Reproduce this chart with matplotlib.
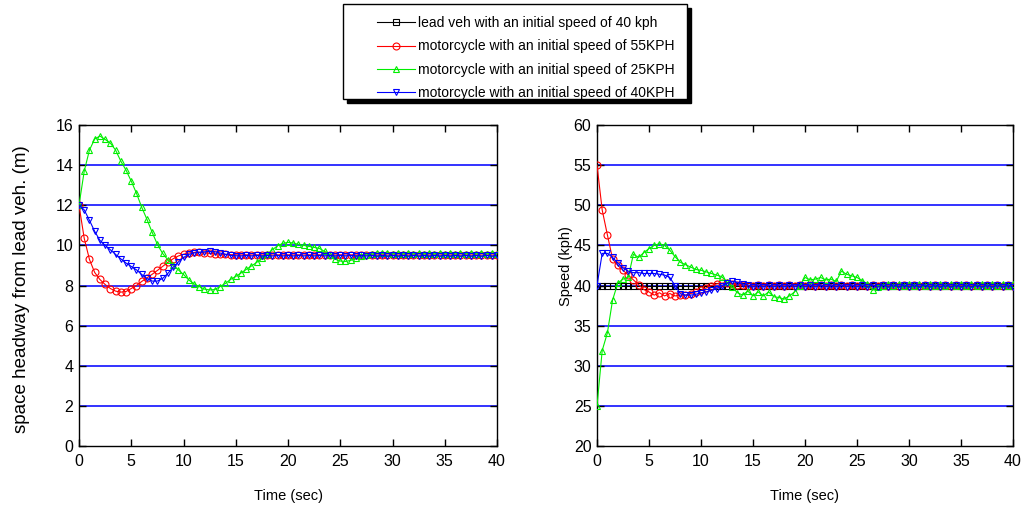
import numpy as np
import matplotlib
matplotlib.use("Agg")
import matplotlib.pyplot as plt
from matplotlib.patches import Rectangle

plt.rcParams['font.family'] = ['Liberation Sans', 'DejaVu Sans']

# ---------------- data ----------------
time_sec = np.arange(0, 40.5, 0.5)  # sampling instants (81 points)

series_labels = [
    "lead veh with an initial speed of 40 kph",
    "motorcycle with an initial speed of 55KPH",
    "motorcycle with an initial speed of 25KPH",
    "motorcycle with an initial speed of 40KPH",
]

# space headway from lead vehicle (m)
headway_55 = [12.0, 10.35, 9.3, 8.65, 8.3, 8.05, 7.85, 7.72, 7.67, 7.7,
              7.85, 8.0, 8.2, 8.38, 8.56, 8.75, 8.95, 9.15, 9.33, 9.47,
              9.56, 9.62, 9.65, 9.65, 9.63, 9.6, 9.58, 9.56, 9.55, 9.54,
              9.53, 9.52, 9.53, 9.52, 9.53, 9.52, 9.53, 9.52, 9.53, 9.52,
              9.53, 9.52, 9.53, 9.52, 9.53, 9.52, 9.53, 9.52, 9.53, 9.52,
              9.53, 9.52, 9.53, 9.52, 9.53, 9.52, 9.53, 9.52, 9.53, 9.52,
              9.53, 9.52, 9.53, 9.52, 9.53, 9.52, 9.53, 9.52, 9.53, 9.52,
              9.53, 9.52, 9.53, 9.52, 9.53, 9.52, 9.53, 9.52, 9.53, 9.52,
              9.53]
headway_25 = [12.0, 13.7, 14.75, 15.3, 15.45, 15.28, 15.1, 14.75, 14.2, 13.75,
              13.2, 12.6, 11.9, 11.3, 10.65, 10.05, 9.6, 9.28, 9.0, 8.78,
              8.55, 8.28, 8.08, 7.95, 7.82, 7.78, 7.8, 7.95, 8.1, 8.3,
              8.45, 8.62, 8.8, 8.97, 9.15, 9.35, 9.55, 9.78, 9.98, 10.1,
              10.15, 10.12, 10.05, 10.0, 9.95, 9.9, 9.85, 9.7, 9.5, 9.32,
              9.22, 9.2, 9.25, 9.35, 9.45, 9.52, 9.57, 9.6, 9.6, 9.62,
              9.58, 9.62, 9.58, 9.62, 9.58, 9.62, 9.58, 9.62, 9.58, 9.62,
              9.58, 9.62, 9.58, 9.62, 9.58, 9.62, 9.58, 9.62, 9.58, 9.62,
              9.58]
headway_40 = [12.0, 11.77, 11.25, 10.7, 10.25, 10.0, 9.78, 9.55, 9.33, 9.12,
              8.95, 8.78, 8.55, 8.35, 8.22, 8.22, 8.35, 8.6, 8.9, 9.17,
              9.4, 9.55, 9.62, 9.66, 9.68, 9.7, 9.68, 9.62, 9.56, 9.5,
              9.48, 9.47, 9.5, 9.47, 9.5, 9.47, 9.5, 9.47, 9.5, 9.47,
              9.5, 9.47, 9.5, 9.47, 9.5, 9.47, 9.5, 9.47, 9.5, 9.47,
              9.5, 9.47, 9.5, 9.47, 9.5, 9.47, 9.5, 9.47, 9.5, 9.47,
              9.5, 9.47, 9.5, 9.47, 9.5, 9.47, 9.5, 9.47, 9.5, 9.47,
              9.5, 9.47, 9.5, 9.47, 9.5, 9.47, 9.5, 9.47, 9.5, 9.47,
              9.5]

# speed (kph)
speed_lead = [40.0] * 81
speed_55 = [55.0, 49.4, 46.3, 43.3, 42.5, 41.9, 41.3, 40.7, 40.1, 39.5,
            39.2, 38.8, 39.1, 38.7, 39.0, 38.7, 38.8, 38.8, 39.0, 39.2,
            39.4, 39.7, 40.0, 40.2, 40.3, 40.3, 40.2, 40.1, 40.1, 40.0,
            39.9, 40.1, 39.9, 40.1, 39.9, 40.1, 39.9, 40.1, 39.9, 40.1,
            39.9, 40.1, 39.9, 40.1, 39.9, 40.1, 39.9, 40.1, 39.9, 40.1,
            39.9, 40.1, 39.9, 40.1, 39.9, 40.1, 39.9, 40.1, 39.9, 40.1,
            39.9, 40.1, 39.9, 40.1, 39.9, 40.1, 39.9, 40.1, 39.9, 40.1,
            39.9, 40.1, 39.9, 40.1, 39.9, 40.1, 39.9, 40.1, 39.9, 40.1,
            39.9]
speed_25 = [25.0, 31.9, 34.1, 38.2, 40.3, 40.8, 41.0, 43.9, 43.5, 44.1,
            44.6, 45.0, 45.2, 45.0, 44.4, 43.6, 42.9, 42.6, 42.3, 42.0,
            41.9, 41.7, 41.5, 41.3, 41.1, 40.4, 39.8, 39.1, 38.8, 39.3,
            38.7, 39.2, 38.7, 39.2, 38.6, 38.5, 38.3, 38.7, 39.2, 40.0,
            41.0, 40.7, 40.8, 41.0, 40.7, 40.8, 40.5, 41.8, 41.4, 41.2,
            41.0, 40.6, 40.2, 39.4, 39.8, 40.0, 40.2, 39.9, 40.2, 39.9,
            40.2, 39.9, 40.2, 39.9, 40.2, 39.9, 40.2, 39.9, 40.2, 39.9,
            40.2, 39.9, 40.2, 39.9, 40.2, 39.9, 40.2, 39.9, 40.2, 39.9,
            40.2]
speed_40 = [40.0, 44.0, 44.0, 43.5, 42.8, 42.2, 41.8, 41.6, 41.6, 41.5,
            41.5, 41.5, 41.4, 41.3, 41.0, 40.0, 39.0, 38.8, 38.8, 38.9,
            39.1, 39.2, 39.4, 39.6, 40.0, 40.3, 40.5, 40.4, 40.2, 40.1,
            39.8, 40.1, 39.8, 40.1, 39.8, 40.1, 39.8, 40.1, 39.8, 40.1,
            39.8, 40.1, 39.8, 40.1, 39.8, 40.1, 39.8, 40.1, 39.8, 40.1,
            39.8, 40.1, 39.8, 40.1, 39.8, 40.1, 39.8, 40.1, 39.8, 40.1,
            39.8, 40.1, 39.8, 40.1, 39.8, 40.1, 39.8, 40.1, 39.8, 40.1,
            39.8, 40.1, 39.8, 40.1, 39.8, 40.1, 39.8, 40.1, 39.8, 40.1,
            39.8]

x_ticks = [0, 5, 10, 15, 20, 25, 30, 35, 40]
left_yticks = [0, 2, 4, 6, 8, 10, 12, 14, 16]
right_yticks = [20, 25, 30, 35, 40, 45, 50, 55, 60]

# ---------------- figure ----------------
W, H = 1028, 515
fig = plt.figure(figsize=(W / 100, H / 100), dpi=100)


def px_axes(x0, y0, x1, y1):
    return fig.add_axes([x0 / W, 1 - y1 / H, (x1 - x0) / W, (y1 - y0) / H])


ax1 = px_axes(79, 125, 497, 446)
ax2 = px_axes(597, 125, 1013, 446)

BLUE_GRID = '#1010ff'
style = dict(lw=0.8, ms=5, mew=0.8, mfc='none')

for ax, yt in ((ax1, left_yticks), (ax2, right_yticks)):
    ax.set_xlim(0, 40)
    ax.set_ylim(yt[0], yt[-1])
    ax.set_xticks(x_ticks)
    ax.set_yticks(yt)
    for v in yt[1:-1]:
        ax.axhline(v, color=BLUE_GRID, lw=1.2, zorder=1)
    ax.tick_params(direction='in', length=5, width=1, top=True, right=True,
                   labelsize=11.5, pad=4)
    ax.tick_params(axis='x', pad=6)
    for s in ax.spines.values():
        s.set_linewidth(1.0)
    ax.set_xlabel('Time (sec)', fontsize=10.5, labelpad=14)

# left plot
ax1.plot(time_sec, headway_55, color='#ff0000', marker='o', zorder=3, **style)
ax1.plot(time_sec, headway_25, color='#00ee00', marker='^', zorder=3, **style)
ax1.plot(time_sec, headway_40, color='#0000ff', marker='v', zorder=3, **style)
ax1.set_ylabel('space headway from lead veh. (m)', fontsize=13.5)
ax1.yaxis.set_label_coords(-0.118, 0.49)

# right plot
h0, = ax2.plot(time_sec, speed_lead, color='black', marker='s', zorder=3, **style)
h1, = ax2.plot(time_sec, speed_55, color='#ff0000', marker='o', zorder=3, **style)
h2, = ax2.plot(time_sec, speed_25, color='#00ee00', marker='^', zorder=3, **style)
h3, = ax2.plot(time_sec, speed_40, color='#0000ff', marker='v', zorder=3, **style)
ax2.set_ylabel('Speed (kph)', fontsize=10.5)
ax2.yaxis.set_label_coords(-0.058, 0.56)

# legend box with shadow (figure coords)
bx0, by0, bx1, by1 = 343, 4, 687, 99
fig.patches.append(Rectangle(((bx0 + 4) / W, 1 - (by1 + 4) / H), (bx1 - bx0) / W,
                             (by1 - by0) / H, transform=fig.transFigure,
                             facecolor='black', edgecolor='black', zorder=0))
fig.patches.append(Rectangle((bx0 / W, 1 - by1 / H), (bx1 - bx0) / W,
                             (by1 - by0) / H, transform=fig.transFigure,
                             facecolor='white', edgecolor='black', lw=1.0, zorder=1))
leg = fig.legend([h0, h1, h2, h3], series_labels, loc='upper left',
                 bbox_to_anchor=(377 / W, 1 - 16 / H), frameon=False,
                 fontsize=10, handlelength=2.7, handletextpad=0.25,
                 labelspacing=0.68, borderaxespad=0, borderpad=0)

fig.savefig('out.png', dpi=100)
